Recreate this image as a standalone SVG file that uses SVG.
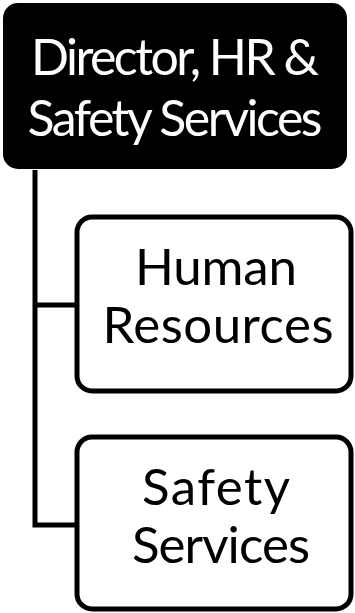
<svg xmlns="http://www.w3.org/2000/svg" width="355" height="613" viewBox="0 0 355 613">
<style>
.box{fill:#fff;stroke:#000;stroke-width:5}
.top{fill:#000;stroke:#000;stroke-width:2}
.conn{fill:none;stroke:#000;stroke-width:5}
text{font-family:Lato,"Open Sans","Liberation Sans",sans-serif;text-anchor:middle}
.w{fill:#fff;font-size:50px}
.b{fill:#000;font-size:51px}
</style>
<rect width="355" height="613" fill="#fff"/>
<g id="connectors">
<path class="conn" d="M35,170 V525 H77 M35,305 H77"/>
</g>
<g id="director">
<rect class="top" x="4" y="4" width="342" height="164" rx="14"/>
<text class="w" x="175" y="75" textLength="288">Director, HR &amp;</text>
<text class="w" x="175" y="136" textLength="295">Safety Services</text>
</g>
<g id="hr">
<rect class="box" x="77" y="217" width="274" height="174" rx="15"/>
<text class="b" x="216" y="285" textLength="162">Human</text>
<text class="b" x="218" y="343" textLength="231">Resources</text>
</g>
<g id="safety">
<rect class="box" x="77" y="437" width="274" height="172" rx="15"/>
<text class="b" x="216" y="505" textLength="148">Safety</text>
<text class="b" x="221" y="563" textLength="178">Services</text>
</g>
</svg>
